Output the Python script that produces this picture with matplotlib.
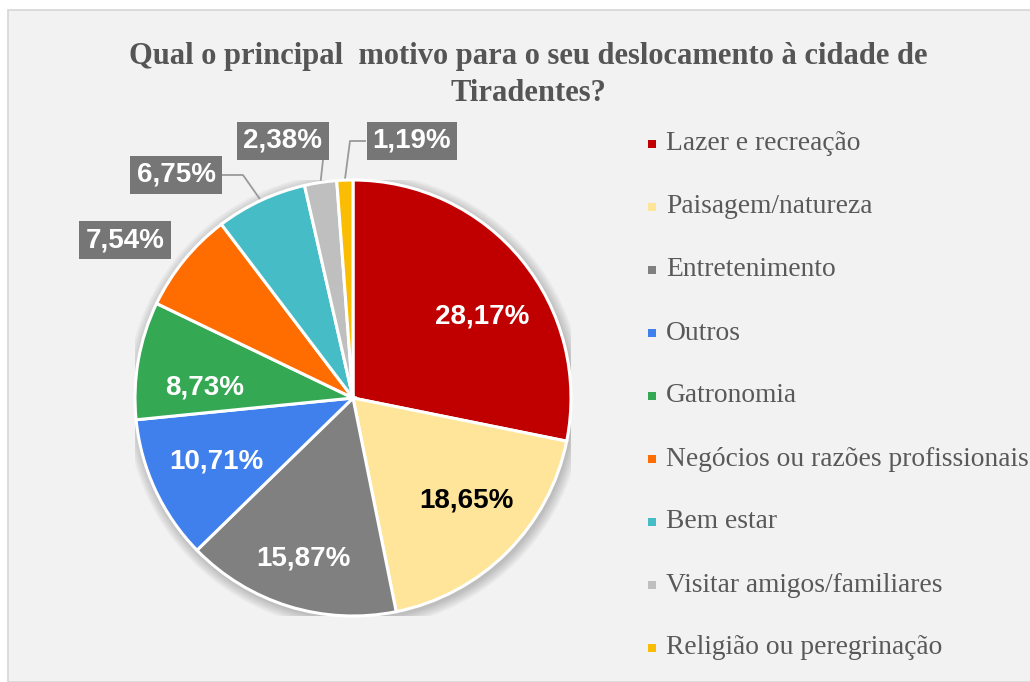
import numpy as np
from matplotlib import pyplot as plt
import matplotlib.patches as mpatches

# data
labels = ["Lazer e recreação", "Paisagem/natureza", "Entretenimento", "Outros",
          "Gatronomia", "Negócios ou razões profissionais", "Bem estar",
          "Visitar amigos/familiares", "Religião ou peregrinação"]
values = [28.17, 18.65, 15.87, 10.71, 8.73, 7.54, 6.75, 2.38, 1.19]
colors = ["#C00000", "#FFE599", "#808080", "#3F80EC", "#34A853",
          "#FF6D01", "#46BDC6", "#BFBFBF", "#FBBC04"]
text_colors = ["white", "black", "white", "white", "white"]

title = "Qual o principal  motivo para o seu deslocamento à cidade de\nTiradentes?"

W, H = 1030, 682
fig = plt.figure(figsize=(W / 100, H / 100), dpi=100)
fig.patches.append(mpatches.Rectangle((8 / W, 0), 1, (H - 10) / H, transform=fig.transFigure,
                                      facecolor="#f2f2f2", edgecolor="#d6d6d6", lw=1.2, zorder=-5))

fig.text(528 / W, 1 - 75 / H, title, ha="center", va="center", fontsize=22,
         fontweight="bold", family="Liberation Serif", color="#555555", linespacing=1.4)

# pie placement (pixels)
cx, cy, R = 353, 398, 218
ax = fig.add_axes([(cx - R) / W, (H - cy - R) / H, 2 * R / W, 2 * R / H])
ax.axis("off")

# soft shadow
for k in range(7):
    ax.add_patch(mpatches.Circle((0.008, -0.012), 1.0 + 0.007 * (k + 1), color="black",
                                 alpha=0.03, lw=0, zorder=0))

wedges, _ = ax.pie(values, colors=colors, startangle=90, counterclock=False, radius=1,
                   wedgeprops=dict(edgecolor="white", linewidth=2.2))
for w in wedges:
    w.set_zorder(2)
ax.set_xlim(-1, 1)
ax.set_ylim(-1, 1)


def px(x, y):
    return (x - cx) / R, (cy - y) / R


mids = [np.deg2rad((w.theta1 + w.theta2) / 2) for w in wedges]

# labels inside the wedges
inside = {0: (0.70, -7), 1: (0.70, 3), 2: (0.77, 0), 3: (0.69, 0), 4: (0.68, 6)}
for i, (r, da) in inside.items():
    a = mids[i] + np.deg2rad(da)
    ax.text(r * np.cos(a), r * np.sin(a), f"{values[i]:.2f}%".replace(".", ","),
            ha="center", va="center", fontsize=20, fontweight="bold",
            family="Liberation Sans", color=text_colors[i], zorder=5)

# callout labels outside the pie: box centre and leader line elbow, in pixels
outside = {5: ((125, 240), None), 6: ((176, 175), (243, 175)),
           7: ((283, 141), (323, 160)), 8: ((412, 141), (350, 141))}
box_style = dict(boxstyle="square,pad=0.22", facecolor="#767676", edgecolor="none")
for i, (pos, elbow) in outside.items():
    bx, by = px(*pos)
    if elbow is not None:
        ex, ey = px(*elbow)
        sx, sy = np.cos(mids[i]), np.sin(mids[i])
        if i == 6:
            ax.plot([px(222, 0)[0], ex, sx], [ey, ey, sy], color="#9a9a9a", lw=1.3,
                    clip_on=False, zorder=1)
        elif i == 7:
            ax.plot([ex, sx], [ey, sy], color="#9a9a9a", lw=1.3, clip_on=False, zorder=1)
        else:
            ax.plot([px(365, 0)[0], ex, sx], [ey, ey, sy], color="#9a9a9a", lw=1.3,
                    clip_on=False, zorder=1)
    ax.text(bx, by, f"{values[i]:.2f}%".replace(".", ","), ha="center", va="center",
            fontsize=20, fontweight="bold", family="Liberation Sans", color="white",
            bbox=box_style, clip_on=False, zorder=6)

# legend
for j, (lab, col) in enumerate(zip(labels, colors)):
    y = 144 + j * 63.0
    fig.patches.append(mpatches.Rectangle((648 / W, 1 - (y + 4) / H), 8 / W, 8 / H,
                                          transform=fig.transFigure, facecolor=col,
                                          edgecolor="none", zorder=3))
    fig.text(666 / W, 1 - y / H, lab, ha="left", va="center", fontsize=19.8,
             family="Liberation Serif", color="#595959")

fig.savefig("out.png", dpi=100)
